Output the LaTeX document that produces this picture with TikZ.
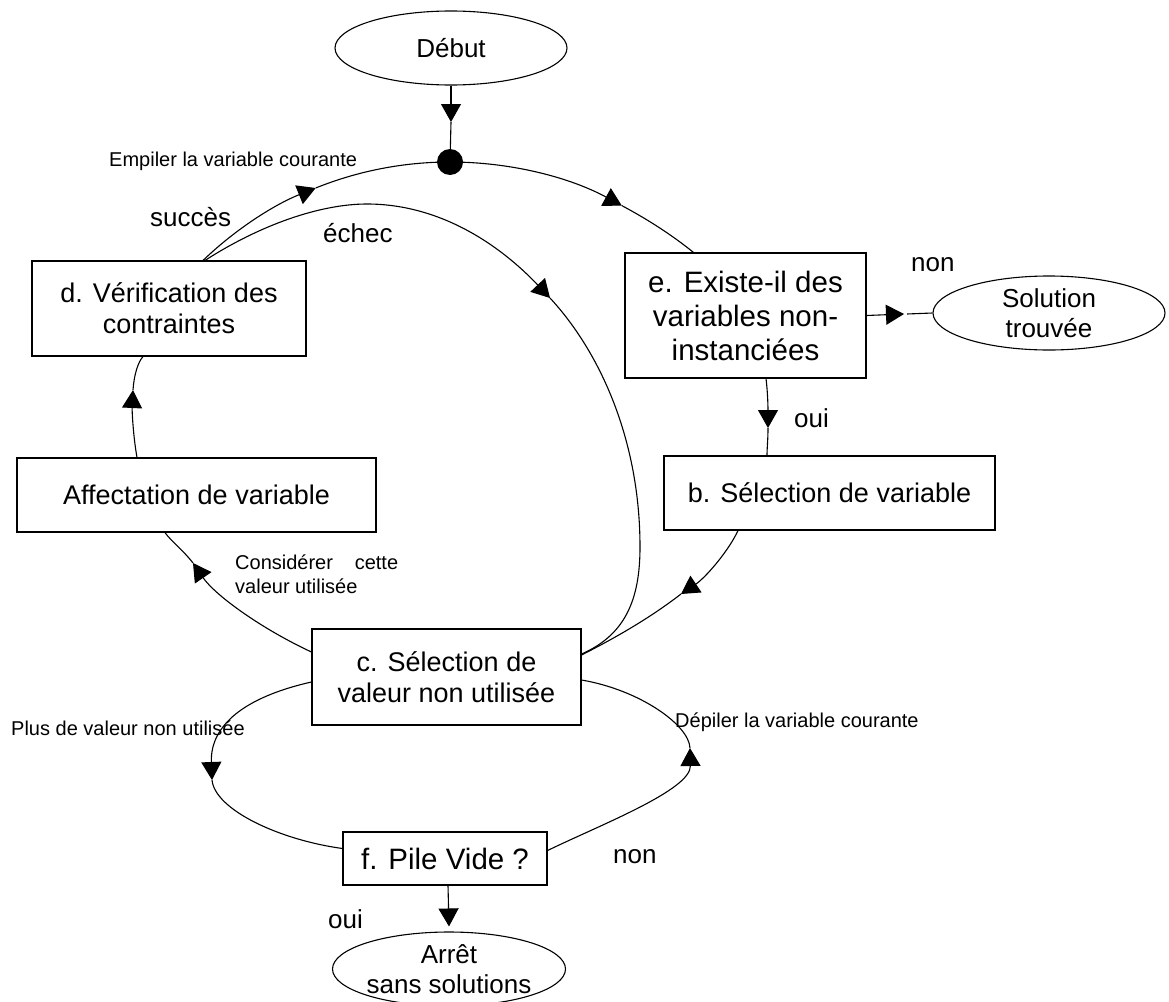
\documentclass[tikz,border=0pt]{standalone}
\usepackage{fontspec}
\setmainfont{Liberation Sans}
\usetikzlibrary{arrows.meta,shapes.geometric,calc}
\begin{document}
\begin{tikzpicture}[x=1pt,y=-1pt,
  every node/.style={inner sep=0pt},
  box/.style={draw,line width=1.1pt,align=center},
  oval/.style={draw,ellipse,line width=1.1pt,minimum width=232pt,minimum height=74pt,align=center,font=\fontsize{26}{30}\selectfont},
  conn/.style={line width=1.1pt},
  arr/.style={-{Triangle[length=18pt,width=20pt]}},
  big/.style={font=\fontsize{27}{31}\selectfont},
  bigger/.style={font=\fontsize{29.5}{34}\selectfont},
  lab/.style={font=\fontsize{26}{30}\selectfont,anchor=base west},
  small/.style={font=\fontsize{20}{24}\selectfont,anchor=base west}]
\useasboundingbox (0,0) rectangle (1169,1001);

% nodes
\node[oval] (debut) at (451,48) {Début};
\node[circle,fill,minimum size=26pt] (dot) at (450,162) {};
\node[box,big,minimum width=274pt,minimum height=95pt] (d) at (169,308.5) {d. Vérification des\\contraintes};
\node[box,big,minimum width=359pt,minimum height=74pt] (aff) at (196.5,495) {Affectation de variable};
\node[box,bigger,minimum width=241pt,minimum height=125pt] (e) at (745.5,315.5) {e. Existe-il des\\variables non-\\instanciées};
\node[oval] (sol) at (1049,313) {Solution\\trouvée};
\node[box,big,minimum width=331pt,minimum height=74pt] (b) at (829.5,493) {b. Sélection de variable};
\node[box,big,minimum width=269pt,minimum height=96pt] (c) at (446.5,677) {c. Sélection de\\valeur non utilisée};
\node[box,bigger,minimum width=204pt,minimum height=53pt] (f) at (445,858.5) {f. Pile Vide ?};
\node[oval] (arret) at (449,969) {Arrêt\\sans solutions};

% arrow tip points
\coordinate (t0) at (451,122);
\coordinate (tA) at (315.7,188);
\coordinate (tB) at (621.8,205.6);
\coordinate (tC) at (550,298);
\coordinate (tD) at (768,428);
\coordinate (tE) at (681,594);
\coordinate (tF) at (193,563);
\coordinate (tG) at (133,390);
\coordinate (tH) at (904,314);
\coordinate (tI) at (212,780);
\coordinate (tJ) at (690,748);

% Début -> dot
\draw[conn,arr] (debut.south) -- (t0);
\draw[conn] (t0) -- (dot);

% succès: d -> dot
\draw[conn,arr] ($(d.north)+(34,0)$) .. controls (235.4,229.3) and (273.8,204.9) .. (tA);
\draw[conn] (tA) .. controls (358.4,170.8) and (404,162) .. (dot.center);

% dot -> e
\draw[conn,arr] (dot.center) .. controls (510,162) and (569.1,177.0) .. (tB);
\draw[conn] (tB) .. controls (647,219) and (672,235) .. ($(e.north)+(-52,0)$);

% échec: d -> c
\draw[conn,arr] ($(d.north)+(36,0)$) .. controls (260,225) and (320,204) .. (367,204) .. controls (440,204) and (500,245) .. (tC);
\draw[conn] (tC) .. controls (600,352) and (640,440) .. (640,547) .. controls (640,600) and (625,635) .. ($(c.east)+(0,-23)$);

% e -> b (oui)
\draw[conn,arr] ($(e.south)+(20.5,0)$) .. controls (768,395) and (768,410) .. (tD);
\draw[conn] (tD) .. controls (768,440) and (767,448) .. ($(b.north)+(-62.5,0)$);

% b -> c
\draw[conn,arr] ($(b.south)+(-91.5,0)$) .. controls (728,552) and (705,578) .. (tE);
\draw[conn] (tE) .. controls (650,618) and (615,638) .. ($(c.east)+(0,-22)$);

% c -> Affectation
\draw[conn,arr] ($(c.west)+(0,-25)$) .. controls (260,628) and (215,595) .. (tF);
\draw[conn] (tF) .. controls (183,550) and (170,540) .. ($(aff.south)+(-31.5,0)$);

% Affectation -> d
\draw[conn,arr] ($(aff.north)+(-59.5,0)$) .. controls (133,435) and (132,410) .. (tG);
\draw[conn] (tG) .. controls (134,375) and (138,362) .. ($(d.south)+(-26,0)$);

% e -> Solution (non)
\draw[conn,arr] (e.east) -- (tH);
\draw[conn] ($(tH)+(3,0)$) -- (sol.west);

% c -> f (left loop)
\draw[conn,arr] ($(c.west)+(0,5)$) .. controls (245,697) and (210,725) .. (tI);
\draw[conn] (tI) .. controls (215,810) and (280,840) .. ($(f.west)+(0,-10)$);

% f -> c (right loop)
\draw[conn,arr] ($(f.east)+(0,-8)$) .. controls (600,825) and (691,790) .. (tJ);
\draw[conn] (tJ) .. controls (689,725) and (640,690) .. ($(c.east)+(0,3)$);

% f -> Arrêt
\draw[conn,arr] ($(f.south)+(3,0)$) -- ([yshift=5pt]arret.north);

% labels
\node[small] (empiler) at (109,166) {Empiler la variable courante};
\node[lab] (succes) at (150,226) {succès};
\node[lab] (echec) at (323,242) {échec};
\node[lab] (non1) at (911,271) {non};
\node[lab] (oui1) at (794,427) {oui};
\node[small] (cons1) at (235,569) {\makebox[163pt][s]{Considérer cette}};
\node[small] (cons2) at (235,593) {valeur utilisée};
\node[small] (plus) at (11,735) {Plus de valeur non utilisée};
\node[small] (depiler) at (675,727) {Dépiler la variable courante};
\node[lab] (non2) at (613,863) {non};
\node[lab] (oui2) at (328,928) {oui};
\end{tikzpicture}
\end{document}
